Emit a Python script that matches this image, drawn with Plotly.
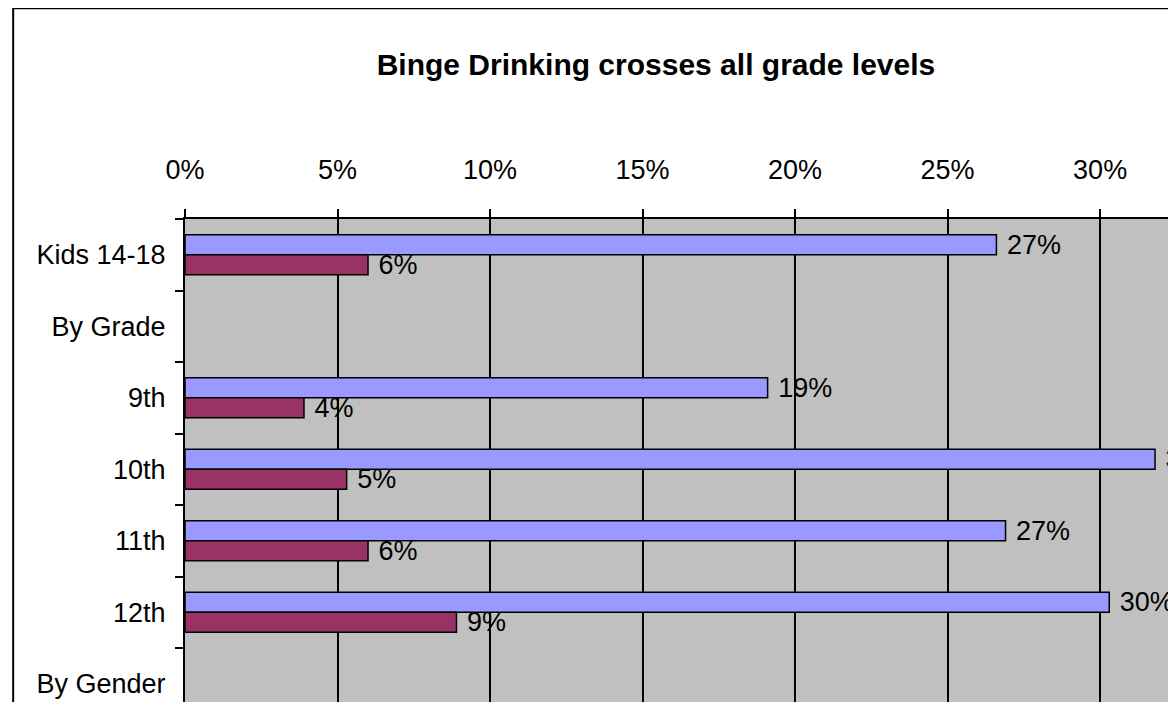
import plotly.graph_objects as go

categories = ['Kids 14-18', 'By Grade', '9th', '10th', '11th', '12th', 'By Gender']
series_1 = [0.266, None, 0.191, 0.318, 0.269, 0.303, None]
series_2 = [0.060, None, 0.039, 0.053, 0.060, 0.089, None]
x_ticks = [0, 0.05, 0.10, 0.15, 0.20, 0.25, 0.30]

font_family = 'Liberation Sans, Arial, sans-serif'

fig = go.Figure()
fig.add_trace(go.Bar(y=categories, x=series_1, orientation='h', name='Series 1',
                     marker=dict(color='#9999FF', line=dict(color='black', width=1.5)),
                     texttemplate=' %{x:.0%}', textposition='outside', constraintext='none',
                     cliponaxis=False, textfont=dict(size=27, color='black')))
fig.add_trace(go.Bar(y=categories, x=series_2, orientation='h', name='Series 2',
                     marker=dict(color='#993366', line=dict(color='black', width=1.5)),
                     texttemplate=' %{x:.0%}', textposition='outside', constraintext='none',
                     cliponaxis=False, textfont=dict(size=27, color='black')))

# page body has an 8px margin, so the figure is shifted; margins compensate
fig.update_layout(
  width=1176, height=702,
  margin=dict(l=177, r=0, t=211, b=0),
  paper_bgcolor='white', plot_bgcolor='#C0C0C0',
  font=dict(family=font_family, size=27, color='black'),
  barmode='group', bargap=0.44, bargroupgap=0,
  showlegend=False,
  title=dict(text='<b>Binge Drinking crosses all grade levels</b>',
             font=dict(size=30, family=font_family),
             x=0.551, xref='container', xanchor='center',
             y=0.919, yref='container', yanchor='middle'),
  xaxis=dict(side='top', range=[0, 0.3275], tickvals=x_ticks, tickformat='.0%',
             showgrid=True, gridcolor='black', gridwidth=1.5,
             showline=True, linecolor='black', linewidth=2,
             ticks='outside', ticklen=8, tickwidth=2, tickcolor='black',
             ticklabelstandoff=19, zeroline=False),
  yaxis=dict(type='category', categoryorder='array', categoryarray=categories,
             range=[6.367, -0.5], showgrid=False,
             showline=True, linecolor='black', linewidth=2,
             ticks='outside', tickson='boundaries', ticklen=8, tickwidth=2, tickcolor='black',
             ticklabelstandoff=12),
)

# outer chart frame (cropped at right and bottom)
fig.add_shape(type='rect', xref='paper', yref='paper',
              x0=-0.172, x1=1.2, y0=-0.2, y1=1.429,
              line=dict(color='black', width=2), fillcolor='rgba(0,0,0,0)', layer='above')

fig.write_html('out.html')
